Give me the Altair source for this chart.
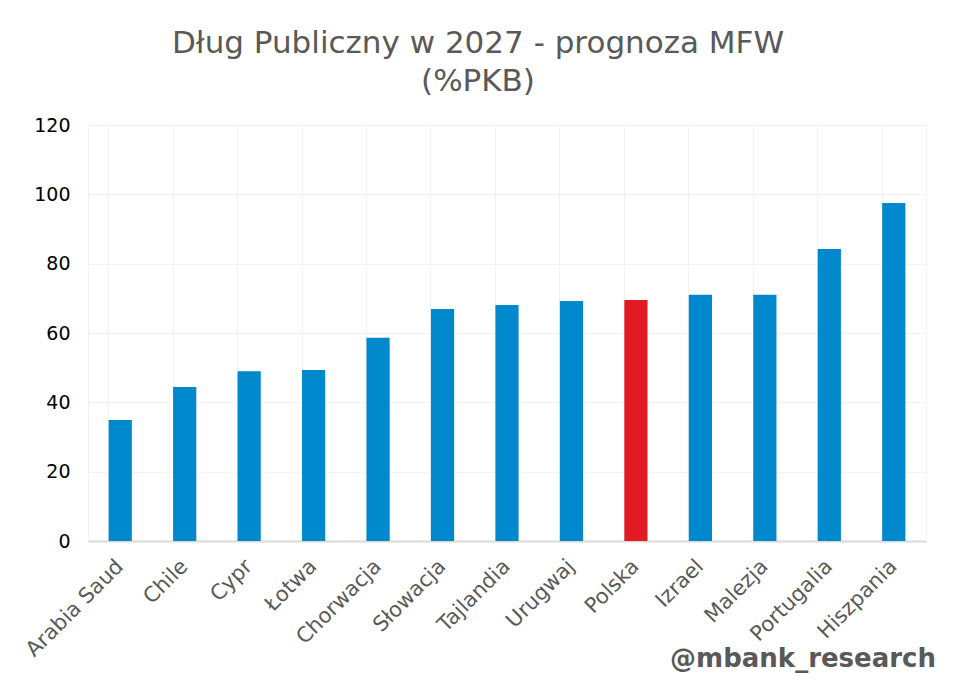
import altair as alt
import pandas as pd

countries = ["Arabia Saud", "Chile", "Cypr", "Łotwa", "Chorwacja", "Słowacja",
             "Tajlandia", "Urugwaj", "Polska", "Izrael", "Malezja", "Portugalia", "Hiszpania"]
values = [34.9, 44.4, 49.0, 49.3, 58.6, 66.9, 68.1, 69.2, 69.5, 71.0, 71.0, 84.2, 97.5]
highlight = ["Polska"]

df = pd.DataFrame({"kraj": countries, "wartosc": values})
df["grupa"] = ["Polska" if c in highlight else "inne" for c in countries]

W, H = 838, 416
FONT = "DejaVu Sans"

xscale = alt.Scale(domain=countries, paddingInner=0.64, paddingOuter=0.32)

bars = alt.Chart(df).mark_bar().encode(
    x=alt.X("kraj:N", sort=countries, scale=xscale, title=None,
            axis=alt.Axis(labelAngle=-45, labelFontSize=21, labelColor="#595959",
                          labelFont=FONT, labelAlign="right", labelBaseline="middle",
                          labelPadding=22, ticks=False, grid=False,
                          domainColor="#d9d9d9", domainWidth=2)),
    y=alt.Y("wartosc:Q", scale=alt.Scale(domain=[0, 120]), title=None,
            axis=alt.Axis(values=[0, 20, 40, 60, 80, 100, 120], labelFontSize=19,
                          labelColor="#000000", labelFont=FONT, ticks=False,
                          domain=False, gridColor="#f2f2f2", labelPadding=18)),
    color=alt.Color("grupa:N", scale=alt.Scale(domain=["inne", "Polska"],
                                               range=["#0088cc", "#e01b22"]), legend=None),
)

vgrid = alt.Chart(df).mark_bar(opacity=0).encode(
    x=alt.X("kraj:N", sort=countries, scale=xscale, title=None,
            axis=alt.Axis(orient="top", labels=False, ticks=False, domain=False,
                          grid=True, gridColor="#f2f2f2", bandPosition=0)),
    y=alt.Y("wartosc:Q", scale=alt.Scale(domain=[0, 120])),
)

wm = alt.Chart(pd.DataFrame({"t": ["@mbank_research"]})).mark_text(
    align="right", baseline="alphabetic", fontSize=26, fontWeight="bold",
    color="#595959", font=FONT
).encode(text="t:N", x=alt.value(W + 10), y=alt.value(H + 126))

chart = alt.layer(vgrid, bars, wm).resolve_axis(x="independent").properties(
    width=W, height=H,
    title=alt.TitleParams(["Dług Publiczny w 2027 - prognoza MFW", "(%PKB)"],
                          fontSize=31, font=FONT, fontWeight="normal", color="#595959",
                          anchor="middle", dx=-29, offset=18, lineHeight=38),
    padding={"left": 80, "top": 117, "right": 14, "bottom": 135},
    autosize=alt.AutoSizeParams(type="none"),
).configure_view(stroke="#f2f2f2")

chart.save("out.html", embed_options={"renderer": "svg", "actions": False})
